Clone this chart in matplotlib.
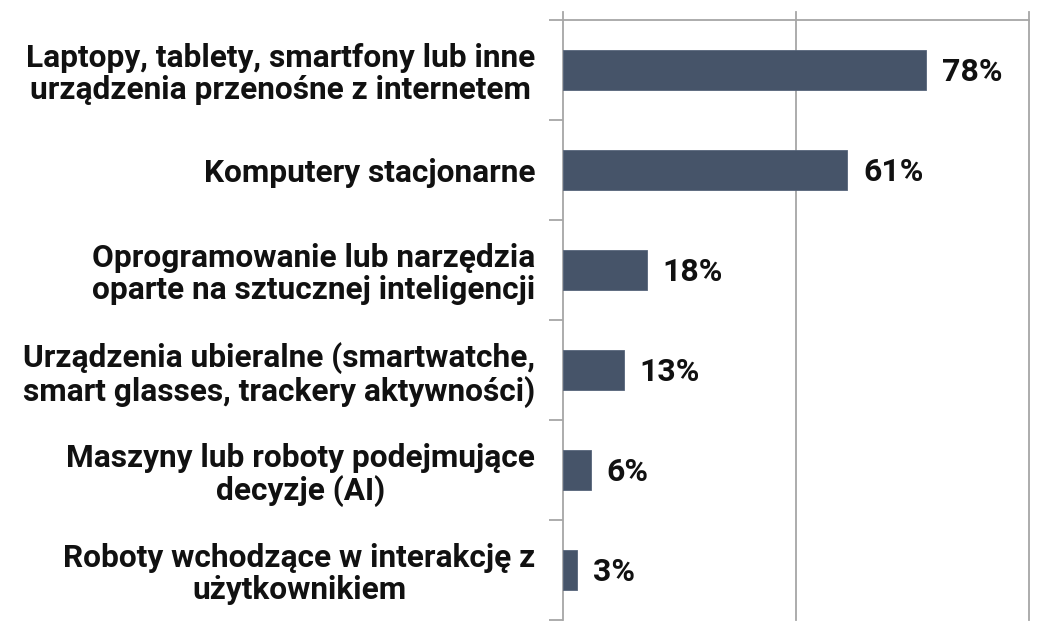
import numpy as np
import matplotlib
matplotlib.use('Agg')
import matplotlib.pyplot as plt

plt.rcParams['font.family'] = ['Roboto', 'DejaVu Sans']

categories = [
    'Laptopy, tablety, smartfony lub inne\nurządzenia przenośne z internetem',
    'Komputery stacjonarne',
    'Oprogramowanie lub narzędzia\noparte na sztucznej inteligencji',
    'Urządzenia ubieralne (smartwatche,\nsmart glasses, trackery aktywności)',
    'Maszyny lub roboty podejmujące\ndecyzje (AI)',
    'Roboty wchodzące w interakcję z\nużytkownikiem',
]
values = [78, 61, 18, 13, 6, 3]
value_labels = ['78%', '61%', '18%', '13%', '6%', '3%']

W, H = 1038, 628
fig = plt.figure(figsize=(W / 100, H / 100), dpi=100)
# axes spans from the top of the gridlines (y=12px) down to y=620px
left, right = 563, 1029
top, bottom = 12, 620
ax = fig.add_axes([left / W, 1 - bottom / H, (right - left) / W, (bottom - top) / H])

n = len(categories)
y = np.arange(n)
# each category gets 100px; the extra 8px at the top is above the top border
ax.set_ylim(n - 0.5, -0.5 - 8 / 100)
ax.set_xlim(0, 100)

ax.barh(y, values, height=0.4, color='#465469', edgecolor='#56647a', linewidth=0.6, zorder=3)

for yi, v, lab in zip(y, values, value_labels):
    ax.text(v + 3.4, yi + 0.02, lab, va='center', ha='left', fontsize=23,
            fontweight='bold', color='#111111')

grid_c = '#a6a6a6'
for gx in [50, 100]:
    ax.axvline(gx, color=grid_c, linewidth=1.3, zorder=1, clip_on=False)
ax.plot([0, 100], [-0.5, -0.5], color=grid_c, linewidth=1.3, zorder=2, clip_on=False)

for s in ['top', 'right', 'bottom']:
    ax.spines[s].set_visible(False)
ax.spines['left'].set_color(grid_c)
ax.spines['left'].set_linewidth(1.3)
ax.spines['left'].set_bounds(n - 0.5, -0.5 - 8 / 100)

ax.set_xticks([])
ax.set_yticks(np.arange(n + 1) - 0.5, minor=True)
ax.tick_params(axis='y', which='minor', length=10, width=1.3, color=grid_c)
ax.set_yticks(y)
ax.set_yticklabels(categories, fontsize=22.8, fontweight='bold', color='#111111',
                   linespacing=1.09, ha='right')
for t in ax.get_yticklabels():
    t.set_multialignment('center')
ax.tick_params(axis='y', which='major', length=0, pad=20)

fig.savefig('out.png', dpi=100, facecolor='white')
